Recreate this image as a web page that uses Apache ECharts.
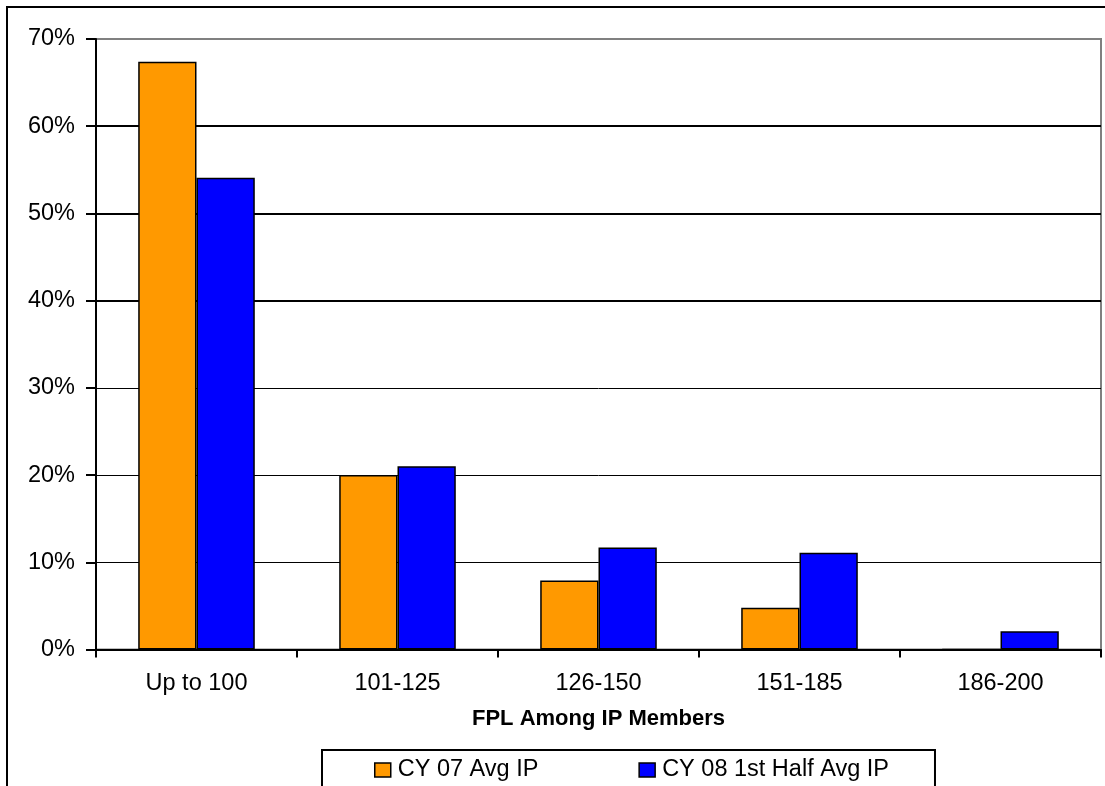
<!DOCTYPE html>
<html>
<head>
<meta charset="utf-8">
<title>FPL Among IP Members</title>
<script src="https://cdn.jsdelivr.net/npm/echarts@6/dist/echarts.min.js"></script>
<style>
  html, body { margin: 0; padding: 0; background: #fff; }
  #chart { width: 1105px; height: 786px; }
</style>
</head>
<body>
<div id="chart"></div>
<script>
// FPL bands and share of IP members in each band (percent)
const categories = ['Up to 100', '101-125', '126-150', '151-185', '186-200'];
const seriesNames = ['CY 07 Avg IP', 'CY 08 1st Half Avg IP'];
const cy07 = [67.4, 20.0, 7.9, 4.8, 0];
const cy08 = [54.1, 21.0, 11.7, 11.1, 2.1];
const yTicks = [0, 10, 20, 30, 40, 50, 60, 70];
const xTitle = 'FPL Among IP Members';

const FONT = '"Liberation Sans", Arial, sans-serif';
const FS = 23.5;
const yMin = yTicks[0];
const yMax = yTicks[yTicks.length - 1];
const yStep = yTicks[1] - yTicks[0];

// thin black grid lines; top line is the grey plot-area border
const thinColors = yTicks.map((t, i) => (i === yTicks.length - 1 ? '#808080' : '#000'));
// the 40-60% lines render heavier
const heavyColors = yTicks.map(t => (t >= 40 && t <= 60 ? '#000' : 'rgba(0,0,0,0)'));

const chart = echarts.init(document.getElementById('chart'), null, { renderer: 'canvas' });

const barStyle = (color) => ({
  color: color,
  borderColor: '#000',
  borderWidth: 1.5
});

chart.setOption({
  backgroundColor: '#fff',
  animation: false,
  textStyle: { fontFamily: FONT },
  graphic: [{
    type: 'rect',
    z: 100,
    silent: true,
    shape: { x: 7, y: 7, width: 1300, height: 1000 },
    style: { fill: 'none', stroke: '#000', lineWidth: 2 }
  }],
  grid: {
    left: 96,
    right: 4,
    top: 39,
    bottom: 136.5,
    show: true,
    borderColor: '#808080',
    borderWidth: 2,
    backgroundColor: 'transparent'
  },
  legend: {
    data: seriesNames,
    left: 322,
    top: 750,
    orient: 'horizontal',
    backgroundColor: '#fff',
    borderColor: '#000',
    borderWidth: 2,
    borderRadius: 0,
    padding: [8, 46, 12, 52],
    itemGap: 100,
    itemWidth: 16,
    itemHeight: 14,
    icon: 'rect',
    itemStyle: { borderColor: '#000', borderWidth: 1.5 },
    textStyle: { fontFamily: FONT, fontSize: FS, color: '#000', padding: [0, 0, 0, 2] }
  },
  xAxis: {
    type: 'category',
    data: categories,
    boundaryGap: true,
    name: xTitle,
    nameLocation: 'middle',
    nameGap: 58,
    nameTextStyle: { fontFamily: FONT, fontSize: 22, fontWeight: 'bold', color: '#000' },
    axisLine: { show: true, lineStyle: { color: '#000', width: 2 }, z: 10 },
    axisTick: { show: true, length: 8, inside: false, lineStyle: { color: '#000', width: 2 } },
    axisLabel: { fontFamily: FONT, fontSize: FS, color: '#000', margin: 22 },
    splitLine: { show: false },
    z: 10
  },
  yAxis: [{
    type: 'value',
    min: yMin,
    max: yMax,
    interval: yStep,
    axisLine: { show: true, lineStyle: { color: '#000', width: 2 } },
    axisTick: { show: true, length: 10, inside: false, lineStyle: { color: '#000', width: 2 } },
    axisLabel: { fontFamily: FONT, fontSize: FS, color: '#000', margin: 21, formatter: '{value}%', padding: [4, 0, 0, 0] },
    splitLine: { show: true, lineStyle: { color: thinColors, width: 1 } }
  }, {
    type: 'value',
    position: 'left',
    min: yMin,
    max: yMax,
    interval: yStep,
    axisLine: { show: false },
    axisTick: { show: false },
    axisLabel: { show: false },
    splitLine: { show: true, lineStyle: { color: heavyColors, width: 2 } }
  }],
  series: [{
    name: seriesNames[0],
    type: 'bar',
    data: cy07,
    barGap: '0%',
    barCategoryGap: '42%',
    itemStyle: barStyle('#FF9900'),
    z: 3
  }, {
    name: seriesNames[1],
    type: 'bar',
    data: cy08,
    barGap: '0%',
    barCategoryGap: '42%',
    itemStyle: barStyle('#0000FF'),
    z: 3
  }]
});
</script>
</body>
</html>
